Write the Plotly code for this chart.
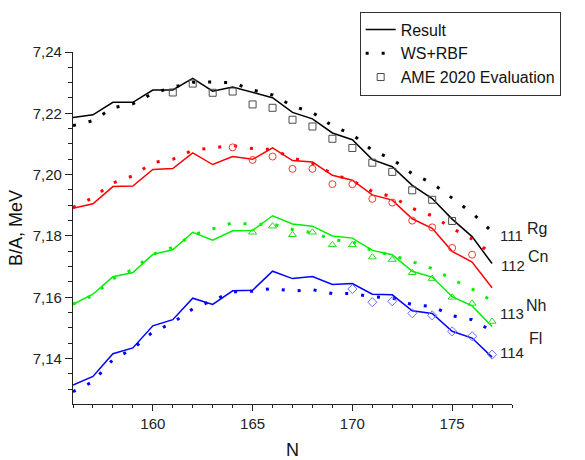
import plotly.graph_objects as go

N = list(range(156, 178))

# Result (lines)
res_rg = [7.2186, 7.2195, 7.2236, 7.2236, 7.2276, 7.2276, 7.2314, 7.2272, 7.2286, 7.2268, 7.2251,
          7.2203, 7.2182, 7.2136, 7.2114, 7.2049, 7.2026, 7.1965, 7.1922, 7.1855, 7.1798, 7.1710]
res_cn = [7.1890, 7.1905, 7.1961, 7.1963, 7.2017, 7.2020, 7.2071, 7.2033, 7.2059, 7.2050, 7.2087,
          7.2046, 7.2041, 7.1998, 7.1982, 7.1934, 7.1917, 7.1856, 7.1825, 7.1750, 7.1715, 7.1631]
res_nh = [7.1577, 7.1610, 7.1667, 7.1681, 7.1740, 7.1755, 7.1812, 7.1786, 7.1817, 7.1818, 7.1866,
          7.1839, 7.1832, 7.1800, 7.1793, 7.1753, 7.1739, 7.1685, 7.1666, 7.1602, 7.1572, 7.1505]
res_fl = [7.1314, 7.1342, 7.1416, 7.1435, 7.1507, 7.1527, 7.1597, 7.1577, 7.1621, 7.1623, 7.1685,
          7.1661, 7.1668, 7.1642, 7.1645, 7.1610, 7.1608, 7.1556, 7.1547, 7.1489, 7.1467, 7.1405]

# WS+RBF (dotted)
ws_rg = [7.2160, 7.2176, 7.2218, 7.2231, 7.2265, 7.2285, 7.2301, 7.2302, 7.2300, 7.2276, 7.2260,
         7.2224, 7.2203, 7.2159, 7.2131, 7.2079, 7.2050, 7.2003, 7.1972, 7.1922, 7.1875, 7.1814]
ws_cn = [7.1893, 7.1925, 7.1973, 7.1996, 7.2039, 7.2050, 7.2080, 7.2088, 7.2095, 7.2085, 7.2082,
         7.2054, 7.2037, 7.2003, 7.1980, 7.1945, 7.1928, 7.1890, 7.1866, 7.1825, 7.1790, 7.1740]
ws_nh = [7.1578, 7.1606, 7.1660, 7.1691, 7.1740, 7.1763, 7.1803, 7.1824, 7.1843, 7.1838, 7.1839,
         7.1821, 7.1811, 7.1788, 7.1781, 7.1752, 7.1737, 7.1716, 7.1694, 7.1659, 7.1627, 7.1588]
ws_fl = [7.1292, 7.1325, 7.1397, 7.1432, 7.1487, 7.1517, 7.1562, 7.1590, 7.1618, 7.1620, 7.1629,
         7.1620, 7.1625, 7.1612, 7.1612, 7.1602, 7.1598, 7.1576, 7.1570, 7.1540, 7.1527, 7.1490]

# AME 2020 Evaluation
ame_rg_n = list(range(161, 176))
ame_rg = [7.2268, 7.2297, 7.2267, 7.2271, 7.2229, 7.2218, 7.2179, 7.2157, 7.2117, 7.2087, 7.2039,
          7.2009, 7.1949, 7.1918, 7.1849]
ame_cn_n = list(range(164, 177))
ame_cn = [7.2089, 7.2048, 7.2059, 7.2019, 7.2019, 7.1969, 7.1969, 7.1921, 7.1909, 7.1850, 7.1828,
          7.1761, 7.1739]
ame_nh_n = list(range(165, 178))
ame_nh = [7.1812, 7.1832, 7.1804, 7.1812, 7.1771, 7.1771, 7.1731, 7.1723, 7.1680, 7.1661, 7.1600,
          7.1580, 7.1521]
ame_fl_n = list(range(170, 178))
ame_fl = [7.1627, 7.1584, 7.1587, 7.1548, 7.1541, 7.1489, 7.1473, 7.1413]

labels = [("111", "Rg"), ("112", "Cn"), ("113", "Nh"), ("114", "Fl")]

BLACK, RED, GREEN, BLUE = "#000000", "#ff0000", "#00ee00", "#0000ff"
FONT = "Arial, Liberation Sans, sans-serif"
DOT = "3px,13px"

fig = go.Figure()

series = [
    (res_rg, ws_rg, ame_rg_n, ame_rg, BLACK, "#4d4d4d", "square-open"),
    (res_cn, ws_cn, ame_cn_n, ame_cn, RED, "#ff3333", "circle-open"),
    (res_nh, ws_nh, ame_nh_n, ame_nh, GREEN, "#22dd22", "triangle-up-open"),
    (res_fl, ws_fl, ame_fl_n, ame_fl, BLUE, "#6a6aff", "diamond-open"),
]

for i, (res, ws, an, av, col, mcol, sym) in enumerate(series):
    first = i == 0
    fig.add_trace(go.Scatter(x=N, y=res, mode="lines", name="Result",
                             line=dict(color=col, width=1.5),
                             showlegend=first))
    fig.add_trace(go.Scatter(x=N, y=ws, mode="lines", name="WS+RBF",
                             line=dict(color=col, width=3, dash=DOT),
                             showlegend=first))
    fig.add_trace(go.Scatter(x=an, y=av, mode="markers", name="AME 2020 Evaluation",
                             marker=dict(symbol=sym, color=mcol, size=7, line=dict(width=1)),
                             showlegend=first))

# labels at the right ends (paper x, data y)
lab_pos = [(0.967, 1.030, 7.1803, 7.1826), (0.970, 1.033, 7.1705, 7.1733),
           (0.967, 1.027, 7.1548, 7.1572), (0.967, 1.035, 7.1419, 7.1465)]
for (num, sym), (nx, sx, ny, sy) in zip(labels, lab_pos):
    fig.add_annotation(x=nx, y=ny, xref="paper", yref="y", text=num, showarrow=False,
                       xanchor="left", yanchor="middle", font=dict(size=15, color="#222", family=FONT))
    fig.add_annotation(x=sx, y=sy, xref="paper", yref="y", text=sym, showarrow=False,
                       xanchor="left", yanchor="middle", font=dict(size=16, color="#222", family=FONT))

fig.update_layout(
    width=585, height=460,
    margin=dict(l=73, r=73, t=48, b=56),
    paper_bgcolor="white", plot_bgcolor="white",
    separators=", ",
    font=dict(family=FONT, color="#222"),
    legend=dict(x=0.653, y=1.115, xanchor="left", yanchor="top",
                bordercolor="#333", borderwidth=1, bgcolor="white",
                font=dict(size=16, family=FONT, color="#111"),
                traceorder="normal", tracegroupgap=0),
    xaxis=dict(range=[156, 178], showgrid=False, zeroline=False, showline=True,
               linecolor="#222", linewidth=1.3, ticks="outside", ticklen=6, tickwidth=1.2,
               tickcolor="#222", tickvals=[160, 165, 170, 175],
               minor=dict(dtick=1, ticks="outside", ticklen=3, tickcolor="#222", showgrid=False),
               tickfont=dict(size=15, family=FONT, color="#222"),
               title=dict(text="N", font=dict(size=18, family=FONT, color="#111"), standoff=12),
               automargin=False),
    yaxis=dict(range=[7.1252, 7.24], showgrid=False, zeroline=False, showline=True,
               linecolor="#222", linewidth=1.3, ticks="outside", ticklen=7, tickwidth=1.2,
               tickcolor="#222", tickvals=[7.14, 7.16, 7.18, 7.20, 7.22, 7.24], tickformat=".2f",
               minor=dict(dtick=0.005, ticks="outside", ticklen=4, tickcolor="#222", showgrid=False),
               tickfont=dict(size=15, family=FONT, color="#222"),
               title=dict(text="B/A, MeV", font=dict(size=18, family=FONT, color="#111"), standoff=5),
               automargin=False),
)

fig.write_html("out.html")
